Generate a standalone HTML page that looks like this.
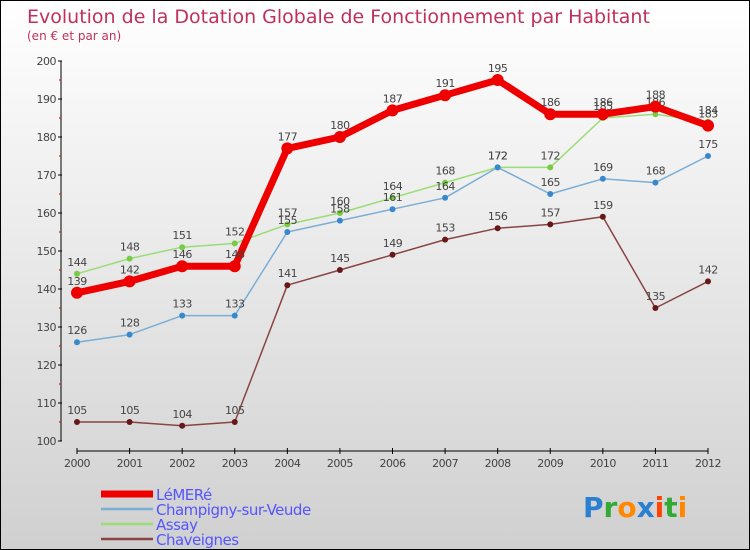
<!DOCTYPE html>
<html><head><meta charset="utf-8"><style>
body{margin:0}
#c{width:750px;height:550px;position:relative;overflow:hidden;box-sizing:border-box;border:1px solid #000;background:linear-gradient(#fff,#d0d0d0);font-family:"DejaVu Sans","Liberation Sans",sans-serif}
</style></head><body>
<div id="c">
<svg id="s" width="750" height="550" style="position:absolute;left:0;top:0">
<text x="26" y="22" font-size="19" fill="#c0305a">Evolution de la Dotation Globale de Fonctionnement par Habitant</text>
<text x="26" y="39" font-size="12" fill="#c0305a">(en € et par an)</text>
</svg>
</div>
<script>
const years=[2000,2001,2002,2003,2004,2005,2006,2007,2008,2009,2010,2011,2012];
const yTicks=[100,110,120,130,140,150,160,170,180,190,200];
const lemere=[139,142,146,146,177,180,187,191,195,186,186,188,183];
const champigny=[126,128,133,133,155,158,161,164,172,165,169,168,175];
const assay=[144,148,151,152,157,160,164,168,172,172,185,186,184];
const chaveignes=[105,105,104,105,141,145,149,153,156,157,159,135,142];
const series=[
 {name:'LéMERé',data:lemere,color:'#ee0000',w:7,r:6,dot:'#ee0000',id:'lemere'},
 {name:'Champigny-sur-Veude',data:champigny,color:'#7aaed6',w:1.5,r:3,dot:'#3a88cc',id:'champigny'},
 {name:'Assay',data:assay,color:'#99dd77',w:1.5,r:3,dot:'#77cc44',id:'assay'},
 {name:'Chaveignes',data:chaveignes,color:'#884444',w:1.5,r:3,dot:'#661818',id:'chaveignes'}];
const NS='http://www.w3.org/2000/svg',s=document.getElementById('s');
const X=i=>76+i*(707-76)/(years.length-1);
const Y=v=>440-(v-100)*3.8;
function el(t,a,txt){const e=document.createElementNS(NS,t);for(const k in a)e.setAttribute(k,a[k]);if(txt!=null)e.textContent=txt;s.appendChild(e);return e;}
let e=el('line',{x1:60,y1:Y(200),x2:60,y2:Y(100),stroke:'#000'});


e=el('line',{x1:76,y1:450,x2:707,y2:450,stroke:'#000'});


yTicks.forEach(v=>{
 el('line',{x1:57,y1:Y(v),x2:61,y2:Y(v),stroke:'#000'});
 if(v<200)el('line',{x1:58,y1:Y(v+5),x2:60,y2:Y(v+5),stroke:'#d00'});
 const t=el('text',{x:55,y:Y(v)+4,'font-size':11,fill:'#444','text-anchor':'end','letter-spacing':'-0.5'},v);
 
 
});
years.forEach((y,i)=>{
 el('line',{x1:X(i),y1:447,x2:X(i),y2:453,stroke:'#000'});
 const t=el('text',{x:X(i),y:466,'font-size':11,fill:'#444','text-anchor':'middle','letter-spacing':'-0.5'},y);
 
 
});
[...series].reverse().forEach(sr=>{
 const p=el('polyline',{points:sr.data.map((v,i)=>X(i)+','+Y(v)).join(' '),fill:'none',stroke:sr.color,'stroke-width':sr.w,'stroke-linejoin':'round'});
 
 
 sr.data.forEach((v,i)=>{
  const c=el('circle',{cx:X(i),cy:Y(v),r:sr.r,fill:sr.dot});
  
  
  const t=el('text',{x:X(i),y:Y(v)-8,'font-size':11,fill:'#444','text-anchor':'middle','letter-spacing':'-0.5'},v);
  
  
 });
});
series.forEach((sr,k)=>{
 const y=493+k*15;
 const l=el('line',{x1:100,y1:y,x2:152,y2:y,stroke:sr.color,'stroke-width':sr.w===7?7:2.5});
 
 
 const t=el('text',{x:155,y:y+6,'font-size':15,fill:'#5555ff','letter-spacing':'-0.5'},sr.name);
 
 
});
const logo=el('text',{x:582,y:516,'font-size':28,'font-weight':'bold'});


[['P','#2a7fd0'],['r','#33aa33'],['o','#ff8800'],['x','#2a7fd0'],['i','#ff4400'],['t','#33aa33'],['i','#ff8800']].forEach(([ch,c])=>{const ts=document.createElementNS(NS,'tspan');ts.setAttribute('fill',c);ts.textContent=ch;logo.appendChild(ts);});
</script>
</body></html>
